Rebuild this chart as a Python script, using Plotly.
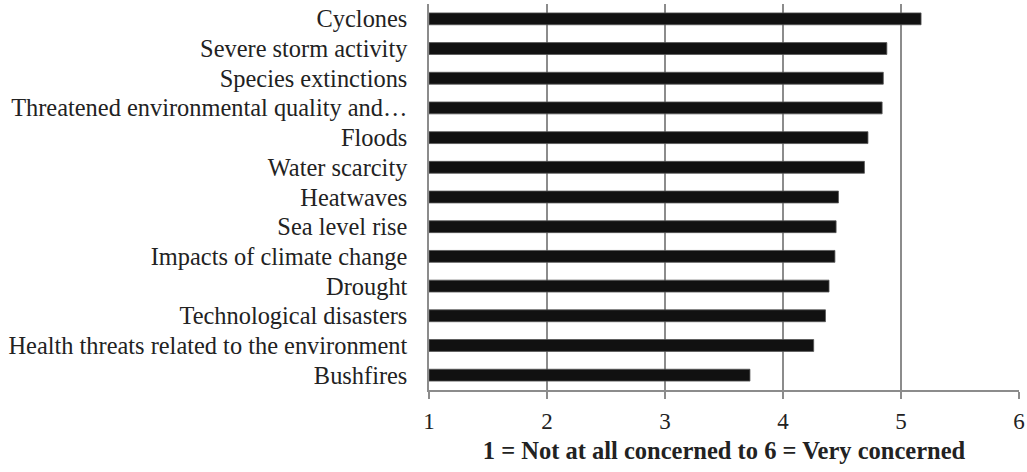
import plotly.graph_objects as go

categories = [
    "Cyclones",
    "Severe storm activity",
    "Species extinctions",
    "Threatened environmental quality and…",
    "Floods",
    "Water scarcity",
    "Heatwaves",
    "Sea level rise",
    "Impacts of climate change",
    "Drought",
    "Technological disasters",
    "Health threats related to the environment",
    "Bushfires",
]
values = [5.17, 4.88, 4.85, 4.84, 4.72, 4.69, 4.47, 4.45, 4.44, 4.39, 4.36, 4.26, 3.72]
x_ticks = [1, 2, 3, 4, 5, 6]
x_title = "1 = Not at all concerned to 6 = Very concerned"

base = 1
fig = go.Figure(
    go.Bar(
        y=categories,
        x=[v - base for v in values],
        base=base,
        orientation="h",
        width=0.4,
        marker=dict(color="#111111", line=dict(color="#555555", width=0.8)),
        hoverinfo="skip",
    )
)

font = "Liberation Serif, Times New Roman, serif"
fig.update_layout(
    width=1027,
    height=472,
    margin=dict(l=429, r=8, t=4, b=82, autoexpand=False),
    paper_bgcolor="white",
    plot_bgcolor="white",
    showlegend=False,
    font=dict(family=font, size=24, color="#222222"),
    bargap=0.6,
)
fig.update_xaxes(
    range=[1, 6],
    tickvals=x_ticks,
    ticktext=[str(t) for t in x_ticks],
    showgrid=True,
    gridcolor="#8c8c8c",
    gridwidth=1.5,
    showline=True,
    linecolor="#8c8c8c",
    linewidth=1.5,
    ticks="outside",
    ticklen=7,
    tickwidth=1.5,
    tickcolor="#8c8c8c",
    ticklabelstandoff=3,
    tickfont=dict(family=font, size=23, color="#222222"),
    zeroline=False,
    automargin=False,
    title=dict(text="<b>" + x_title + "</b>", font=dict(family=font, size=24.5, color="#222222"), standoff=9),
)
fig.update_yaxes(
    categoryorder="array",
    categoryarray=categories[::-1],
    range=[-0.5, len(categories) - 0.5],
    showgrid=False,
    showline=True,
    linecolor="#8c8c8c",
    linewidth=1.5,
    ticks="",
    ticklabelstandoff=15,
    tickfont=dict(family=font, size=24.4, color="#222222"),
    zeroline=False,
    automargin=False,
)

fig.write_html(
    "out.html",
    config={"displayModeBar": False},
    post_script="document.body.style.margin='0';",
)
